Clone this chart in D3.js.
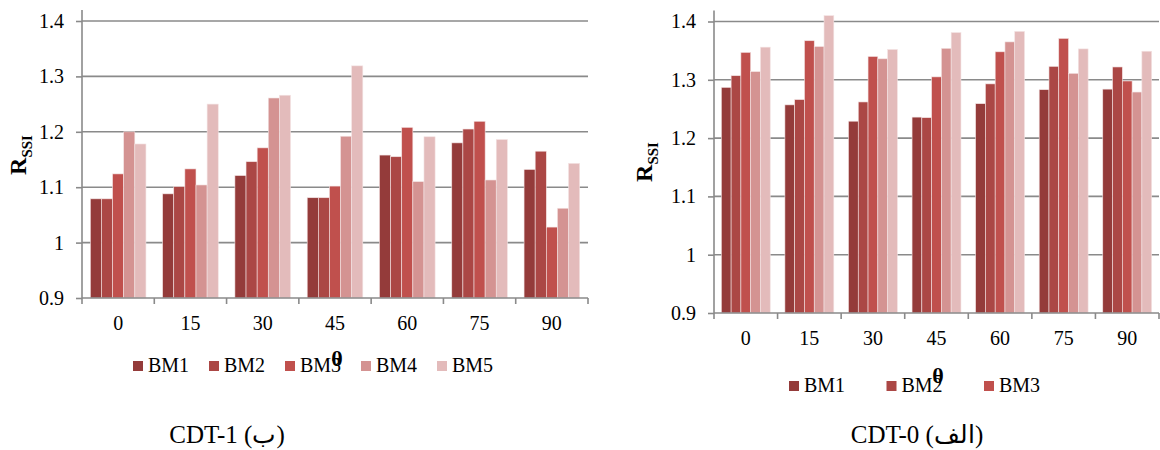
<!DOCTYPE html>
<html><head><meta charset="utf-8">
<script src="https://cdn.jsdelivr.net/npm/d3@7"></script>
<style>
body{margin:0;background:#fff;}
svg text{font-family:"Liberation Serif","Times New Roman","DejaVu Serif",serif;fill:#000;}
</style></head>
<body><svg id="c" width="1160" height="450"></svg>
<script>
const categories = ["0","15","30","45","60","75","90"];
const seriesNames = ["BM1","BM2","BM3","BM4","BM5"];
const yTicks = [0.9,1.0,1.1,1.2,1.3,1.4];
const yTickLabels = ["0.9","1","1.1","1.2","1.3","1.4"];
// CDT-1 (left chart)
const cdt1_BM1 = [1.079,1.088,1.121,1.081,1.158,1.180,1.132];
const cdt1_BM2 = [1.079,1.101,1.146,1.081,1.155,1.205,1.165];
const cdt1_BM3 = [1.124,1.133,1.171,1.102,1.208,1.219,1.028];
const cdt1_BM4 = [1.200,1.104,1.261,1.192,1.110,1.113,1.062];
const cdt1_BM5 = [1.178,1.250,1.266,1.319,1.191,1.186,1.143];
// CDT-0 (right chart)
const cdt0_BM1 = [1.287,1.257,1.229,1.236,1.259,1.283,1.284];
const cdt0_BM2 = [1.307,1.266,1.262,1.235,1.293,1.323,1.322];
const cdt0_BM3 = [1.347,1.367,1.340,1.305,1.348,1.371,1.298];
const cdt0_BM4 = [1.314,1.357,1.336,1.354,1.365,1.311,1.279];
const cdt0_BM5 = [1.356,1.410,1.352,1.381,1.383,1.353,1.349];
const colors = ["#943b3a","#ab4745","#c0504d","#d49392","#e3bbbb"];

const FONT = '"Liberation Serif","Times New Roman","DejaVu Serif",serif';
const svg = d3.select("#c");
const GRID = "#8a8a8a";

function drawChart(cfg){
  const g = svg.append("g").attr("font-family", FONT);
  const x0 = d3.scaleBand().domain(categories).range([cfg.left, cfg.right])
    .paddingInner(1.5/6.5).paddingOuter(0.75/6.5);
  const x1 = d3.scaleBand().domain(seriesNames).range([0, x0.bandwidth()]);
  const y = d3.scaleLinear().domain([0.9,1.4]).range([cfg.bottom, cfg.top]);
  const step = x0.step();
  // gridlines
  g.selectAll(".grid").data(yTicks.slice(1)).join("line")
    .attr("x1", cfg.left).attr("x2", cfg.right)
    .attr("y1", d=>y(d)).attr("y2", d=>y(d))
    .attr("stroke", GRID).attr("stroke-width", 1.6);
  // bars
  const groups = g.selectAll(".grp").data(categories).join("g")
    .attr("transform", c=>`translate(${x0(c)},0)`);
  groups.selectAll("rect").data((c,i)=>cfg.series.map((s,j)=>({name:seriesNames[j], v:s[i]})))
    .join("rect")
    .attr("x", d=>x1(d.name)).attr("width", x1.bandwidth())
    .attr("y", d=>y(d.v)).attr("height", d=>y(0.9)-y(d.v))
    .attr("fill", (d,j)=>colors[j])
    .attr("stroke", "#f3e3e3").attr("stroke-width", 0.6);
  // y axis
  const ya = g.append("g").attr("transform", `translate(${cfg.left},0)`)
    .call(d3.axisLeft(y).tickValues(yTicks).tickFormat((d,i)=>yTickLabels[i]).tickSize(6).tickPadding(12).tickSizeOuter(0));
  ya.attr("font-family", FONT);
  ya.select(".domain").remove();
  ya.selectAll("line").attr("stroke", GRID).attr("stroke-width", 1.6);
  ya.selectAll("text").attr("font-size", cfg.fs).attr("font-family", FONT).attr("fill","#000");
  g.append("line").attr("x1", cfg.left).attr("x2", cfg.left).attr("y1", cfg.top-11).attr("y2", cfg.bottom)
    .attr("stroke", GRID).attr("stroke-width", 1.6);
  // x axis
  g.append("line").attr("x1", cfg.left).attr("x2", cfg.right).attr("y1", cfg.bottom).attr("y2", cfg.bottom)
    .attr("stroke", GRID).attr("stroke-width", 1.6);
  const bounds = categories.map(c=>x0(c) - (step - x0.bandwidth())/2).concat([cfg.right]);
  g.selectAll(".xt").data(bounds).join("line")
    .attr("x1", d=>d).attr("x2", d=>d).attr("y1", cfg.bottom).attr("y2", cfg.bottom+6)
    .attr("stroke", GRID).attr("stroke-width", 1.6);
  g.selectAll(".xl").data(categories).join("text")
    .attr("x", c=>x0(c)+x0.bandwidth()/2).attr("y", cfg.bottom+32)
    .attr("text-anchor","middle").attr("font-size", cfg.fs).attr("font-family", FONT).text(c=>c);
  // y title
  const yt = g.append("text").attr("transform", `translate(${cfg.ytX},${cfg.ytY}) rotate(-90)`)
    .attr("text-anchor","middle").attr("font-weight","bold").attr("font-family", FONT);
  yt.append("tspan").attr("font-size", cfg.fs+4).text("R");
  yt.append("tspan").attr("font-size", cfg.fs-5).attr("dy", 6).text("SSI");
  // legend
  const lg = g.selectAll(".lg").data(cfg.legend).join("g")
    .attr("transform",(d,i)=>`translate(${cfg.lgX + i*cfg.lgStep},${cfg.lgY})`);
  lg.append("rect").attr("x",0).attr("y",-11).attr("width",10).attr("height",10)
    .attr("fill",(d,i)=>colors[i]);
  lg.append("text").attr("x",15).attr("y",0).attr("font-size", cfg.fs).attr("font-family", FONT).text(d=>d);
  // x title
  g.append("text").attr("x", cfg.thX).attr("y", cfg.thY).attr("text-anchor","middle")
    .attr("font-weight","bold").attr("font-size", cfg.fs+2).attr("font-family", FONT).text("θ");
  // caption
  g.append("text").attr("x", cfg.capX).attr("y", 443).attr("text-anchor","middle")
    .attr("font-size", 25).attr("font-family", FONT).text(cfg.caption);
}

drawChart({left:82, right:588, top:21, bottom:298, fs:20,
  series:[cdt1_BM1,cdt1_BM2,cdt1_BM3,cdt1_BM4,cdt1_BM5],
  ytX:26, ytY:155, legend:seriesNames, lgX:133, lgY:372, lgStep:76,
  thX:337, thY:366, capX:227, caption:"CDT-1 (ب)"});
drawChart({left:714, right:1159, top:21.5, bottom:313, fs:20,
  series:[cdt0_BM1,cdt0_BM2,cdt0_BM3,cdt0_BM4,cdt0_BM5],
  ytX:652, ytY:162, legend:seriesNames.slice(0,3), lgX:789, lgY:392, lgStep:97.5,
  thX:938, thY:383, capX:917, caption:"CDT-0 (الف)"});
</script></body></html>
